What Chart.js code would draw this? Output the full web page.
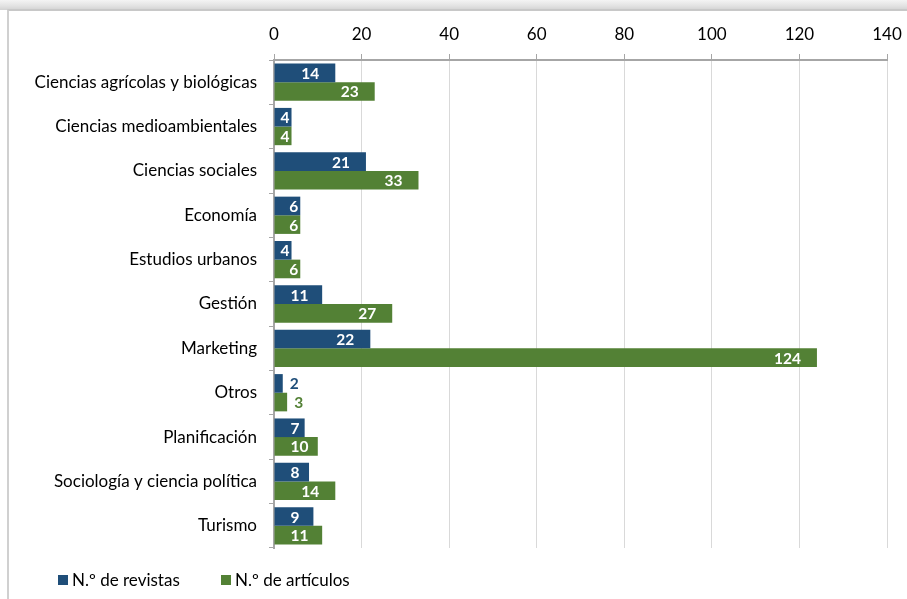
<!DOCTYPE html>
<html>
<head>
<meta charset="utf-8">
<script src="https://cdn.jsdelivr.net/npm/chart.js@4"></script>
<style>
  html, body { margin: 0; padding: 0; background: #ffffff; }
  body { width: 907px; height: 599px; position: relative; overflow: hidden; }
  #shadow { position: absolute; left: 0; top: 0; width: 907px; height: 10px;
    background: linear-gradient(to bottom, #f4f4f4 0%, #e2e2e2 60%, #d2d2d2 100%); }
  #frame { position: absolute; left: 7px; top: 9px; width: 1000px; height: 700px;
    border-left: 2px solid #d0d0d0; border-top: 2px solid #c8c8c8; background: #fff; }
  canvas { position: absolute; left: 0; top: 0; }
</style>
</head>
<body>
<div id="shadow"></div>
<div id="frame"></div>
<canvas id="c" width="907" height="599"></canvas>
<script>
const categories = [
  'Ciencias agrícolas y biológicas',
  'Ciencias medioambientales',
  'Ciencias sociales',
  'Economía',
  'Estudios urbanos',
  'Gestión',
  'Marketing',
  'Otros',
  'Planificación',
  'Sociología y ciencia política',
  'Turismo'
];
const revistas  = [14, 4, 21, 6, 4, 11, 22, 2, 7, 8, 9];
const articulos = [23, 4, 33, 6, 6, 27, 124, 3, 10, 14, 11];
const seriesNames = ['N.º de revistas', 'N.º de artículos'];
const xMin = 0, xMax = 140, xStep = 20;

const BLUE = '#1f4e79';
const GREEN = '#538135';
const FONT = 'Lato, "Noto Sans", sans-serif';

const barLabels = {
  id: 'barLabels',
  afterDatasetsDraw(chart) {
    const ctx = chart.ctx;
    ctx.save();
    ctx.font = 'bold 15.5px ' + FONT;
    ctx.textBaseline = 'middle';
    chart.data.datasets.forEach((ds, i) => {
      const meta = chart.getDatasetMeta(i);
      meta.data.forEach((bar, j) => {
        const txt = String(ds.data[j]);
        const w = ctx.measureText(txt).width;
        const start = bar.base, end = bar.x, y = bar.y + 1;
        if (end - start < w + 5) {
          ctx.fillStyle = ds.backgroundColor;
          ctx.textAlign = 'left';
          ctx.fillText(txt, end + 7, y);
        } else {
          const right = Math.min(Math.max(end - 16, start + 16 + w), end - 2);
          ctx.fillStyle = '#ffffff';
          ctx.textAlign = 'right';
          ctx.fillText(txt, right, y);
        }
      });
    });
    ctx.restore();
  }
};

const customLegend = {
  id: 'customLegend',
  afterDraw(chart) {
    const ctx = chart.ctx;
    ctx.save();
    ctx.font = '17px ' + FONT;
    ctx.textBaseline = 'middle';
    ctx.textAlign = 'left';
    const xs = [58, 221];
    chart.data.datasets.forEach((ds, i) => {
      ctx.fillStyle = ds.backgroundColor;
      ctx.fillRect(xs[i], 575, 10, 10);
      ctx.fillStyle = '#000000';
      ctx.fillText(ds.label, xs[i] + 14, 580.5);
    });
    ctx.restore();
  }
};

new Chart(document.getElementById('c'), {
  type: 'bar',
  data: {
    labels: categories,
    datasets: [
      { label: seriesNames[0], data: revistas, backgroundColor: BLUE },
      { label: seriesNames[1], data: articulos, backgroundColor: GREEN }
    ]
  },
  options: {
    indexAxis: 'y',
    responsive: false,
    animation: false,
    devicePixelRatio: 1,
    layout: { padding: { top: 0, left: 0, right: 20, bottom: 51 } },
    datasets: { bar: { categoryPercentage: 0.84, barPercentage: 1.0 } },
    plugins: { legend: { display: false }, tooltip: { enabled: false } },
    scales: {
      x: {
        position: 'top',
        min: xMin, max: xMax,
        ticks: { stepSize: xStep, color: '#000', padding: 9, font: { family: FONT, size: 17 } },
        grid: { color: '#d9d9d9', tickColor: '#a6a6a6', tickLength: 6, lineWidth: 1 },
        border: { color: '#a6a6a6', width: 2 },
        afterFit(s) { s.height = 60; s.paddingRight = 0; s.paddingLeft = 0; }
      },
      y: {
        ticks: { color: '#000', padding: 12, font: { family: FONT, size: 17 } },
        grid: { drawOnChartArea: false, tickColor: '#a6a6a6', tickLength: 5, offset: true },
        border: { color: '#a6a6a6', width: 2 },
        afterFit(s) { s.width = 274; }
      }
    }
  },
  plugins: [barLabels, customLegend]
});
</script>
</body>
</html>
